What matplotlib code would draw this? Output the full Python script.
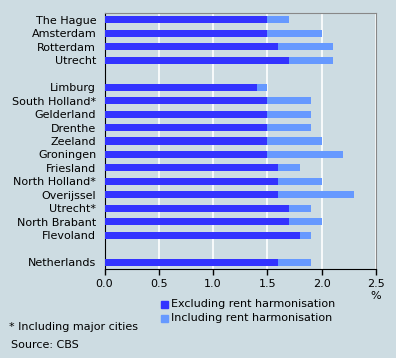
import matplotlib.pyplot as plt
import numpy as np

# Data
regions = ["The Hague", "Amsterdam", "Rotterdam", "Utrecht",
           "Limburg", "South Holland*", "Gelderland", "Drenthe", "Zeeland",
           "Groningen", "Friesland", "North Holland*", "Overijssel",
           "Utrecht*", "North Brabant", "Flevoland",
           "Netherlands"]
excl = [1.5, 1.5, 1.6, 1.7,
        1.4, 1.5, 1.5, 1.5, 1.5, 1.5, 1.6, 1.6, 1.6, 1.7, 1.7, 1.8,
        1.6]
incl = [1.7, 2.0, 2.1, 2.1,
        1.5, 1.9, 1.9, 1.9, 2.0, 2.2, 1.8, 2.0, 2.3, 1.9, 2.0, 1.9,
        1.9]
# row slots (gaps between groups)
slots = [0, 1, 2, 3, 5, 6, 7, 8, 9, 10, 11, 12, 13, 14, 15, 16, 18]

bg = "#CDDCE2"
dark = "#3333FF"
light = "#6699FF"
fs = 8

fig = plt.figure(figsize=(3.96, 3.58), dpi=100, facecolor=bg)
ax = fig.add_axes([104.5 / 396, 1 - 269 / 358, 271.5 / 396, 256 / 358])
ax.set_facecolor(bg)

y = np.array(slots)
excl = np.array(excl)
incl = np.array(incl)
ax.barh(y, incl, height=0.52, color=light, zorder=2)
ax.barh(y, excl, height=0.52, color=dark, zorder=3)

ax.set_xlim(0, 2.5)
ax.set_ylim(18.5, -0.5)
ax.set_yticks(y)
ax.set_yticklabels(regions, fontsize=fs)
ax.tick_params(axis="y", length=0, pad=6)
ax.set_xticks(np.arange(0, 2.51, 0.5))
ax.set_xticklabels([f"{v:.1f}" for v in np.arange(0, 2.51, 0.5)], fontsize=fs)
ax.tick_params(axis="x", direction="out", length=4, width=1, pad=3)
ax.xaxis.grid(True, color="white", linewidth=1.2, zorder=1)
ax.set_axisbelow(True)

for s in ["top", "right"]:
    ax.spines[s].set_color("#888888")
for s in ["left", "bottom"]:
    ax.spines[s].set_color("black")

fig.text(376 / 396, 1 - 296 / 358, "%", fontsize=fs, ha="center", va="center")

# legend
for i, (lab, c) in enumerate([("Excluding rent harmonisation", dark),
                              ("Including rent harmonisation", light)]):
    yy = 1 - (304 + 14 * i) / 358
    fig.patches.append(plt.Rectangle((161 / 396, yy - 3.5 / 358), 6.5 / 396, 7 / 358,
                                     transform=fig.transFigure, color=c, figure=fig))
    fig.text(171 / 396, yy, lab, fontsize=fs, va="center", ha="left")

fig.text(9 / 396, 1 - 327 / 358, "* Including major cities", fontsize=fs, va="center")
fig.text(11 / 396, 1 - 345 / 358, "Source: CBS", fontsize=fs, va="center")

fig.savefig("out.png", dpi=100, facecolor=bg)
